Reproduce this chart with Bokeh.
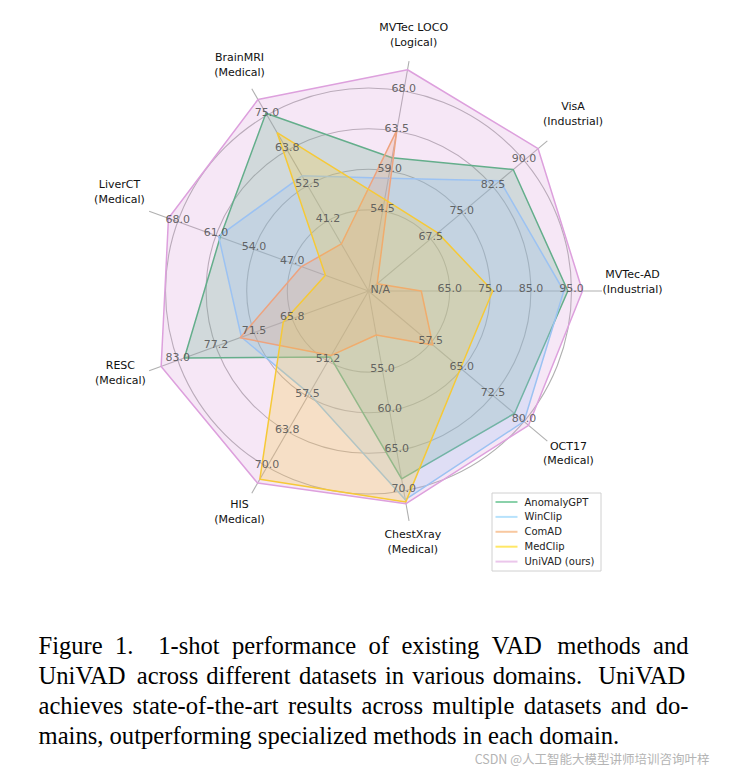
import numpy as np
from bokeh.plotting import figure
from bokeh.models import Range1d
from bokeh.embed import file_html
from bokeh.resources import INLINE
from bokeh.core.properties import value

# ---------------- data ----------------
categories = ["MVTec-AD", "VisA", "MVTec LOCO", "BrainMRI", "LiverCT",
              "RESC", "HIS", "ChestXray", "OCT17"]
domains = ["Industrial", "Industrial", "Logical", "Medical", "Medical",
           "Medical", "Medical", "Medical", "Medical"]
# ring tick values per axis (rings at 40%, 60%, 80%, 100% of radius)
ticks_mvtec = [65.0, 75.0, 85.0, 95.0]
ticks_visa = [67.5, 75.0, 82.5, 90.0]
ticks_loco = [54.5, 59.0, 63.5, 68.0]
ticks_brain = [41.25, 52.5, 63.75, 75.0]
ticks_liver = [47.0, 54.0, 61.0, 68.0]
ticks_resc = [65.75, 71.5, 77.25, 83.0]
ticks_his = [51.25, 57.5, 63.75, 70.0]
ticks_chest = [55.0, 60.0, 65.0, 70.0]
ticks_oct = [57.5, 65.0, 72.5, 80.0]
axis_ticks = [ticks_mvtec, ticks_visa, ticks_loco, ticks_brain, ticks_liver,
              ticks_resc, ticks_his, ticks_chest, ticks_oct]
center_label = "N/A"

methods = ["AnomalyGPT", "WinClip", "ComAD", "MedClip", "UniVAD (ours)"]
anomalygpt = [94.1, 87.4, 60.5, 75.6, 60.2, 82.0, 50.5, 68.5, 77.7]
winclip = [93.1, 84.2, 58.2, 55.6, 60.5, 73.4, 57.0, 71.1, 80.0]
comad = [58.0, 54.6, 63.6, 33.8, 45.3, 73.6, 50.2, 50.5, 58.0]
medclip = [75.6, 69.2, 55.8, 69.4, 40.9, 67.1, 72.2, 71.4, 64.7]
univad = [97.7, 93.4, 70.4, 80.0, 69.7, 85.5, 72.9, 71.6, 81.1]
series = [anomalygpt, winclip, comad, medclip, univad]

caption_lines = [
    "Figure 1.  1-shot performance of existing VAD methods and",
    "UniVAD across different datasets in various domains.  UniVAD",
    "achieves state-of-the-art results across multiple datasets and do-",
    "mains, outperforming specialized methods in each domain.",
]
watermark = "CSDN @人工智能大模型讲师培训咨询叶梓"

# ---------------- style / layout ----------------
colors = ["#3CB371", "#87CEFA", "#F4A460", "#FFD700", "#DDA0DD"]
W, H = 714, 768
CX, CY = 368.0, 290.5          # radar centre (pixels from top-left of the figure)
R = 203.0                      # radius of outer (100%) ring
ring_fracs = [0.4, 0.6, 0.8, 1.0]
spoke_frac = 1.15
label_r = [264, 267, 260, 258, 265, 264, 258, 255, 261]
SANS = "DejaVu Sans"

p = figure(width=W, height=H, output_backend="svg", toolbar_location=None,
           x_range=Range1d(-CX, W - CX), y_range=Range1d(CY - H, CY),
           x_axis_type=None, y_axis_type=None, min_border=0,
           outline_line_color=None, background_fill_color="white")
p.grid.visible = False

n = len(categories)
theta = np.radians(np.arange(n) * 360.0 / n)
ct, st = np.cos(theta), np.sin(theta)


def to_radius(v, k):
    lo, hi = axis_ticks[k][0], axis_ticks[k][-1]
    return R * (0.4 + 0.6 * (v - lo) / (hi - lo))


def page(xp, yp):
    return xp - CX, CY - yp


# grid rings and spokes
p.circle(x=[0] * len(ring_fracs), y=[0] * len(ring_fracs),
         radius=[f * R for f in ring_fracs], fill_color=None,
         line_color="#b0b0b0", line_width=1.1)
p.segment(x0=[0] * n, y0=[0] * n, x1=list(spoke_frac * R * ct), y1=list(spoke_frac * R * st),
          line_color="#b0b0b0", line_width=1.1)

# series polygons
for vals, col in zip(series, colors):
    rr = np.array([to_radius(v, k) for k, v in enumerate(vals)])
    p.patch(list(rr * ct), list(rr * st), fill_color=col, fill_alpha=0.25,
            line_color=col, line_width=1.5)

# ring labels
tx, ty, tt = [], [], []
for k in range(n):
    for f, t in zip(ring_fracs, axis_ticks[k]):
        tx.append(f * R * ct[k])
        ty.append(f * R * st[k] + 3)
        tt.append(f"{t:.1f}")
p.text(x=tx, y=ty, text=tt, text_align="center", text_baseline="middle",
       text_font=value(SANS), text_font_size="11px", text_color="#555555", text_alpha=0.9)
p.text(x=[2], y=[2], text=[center_label], text_align="left", text_baseline="middle",
       text_font=value(SANS), text_font_size="11px", text_color="#555555", text_alpha=0.9)

# category labels
lx = [label_r[k] * ct[k] for k in range(n)]
ly = [label_r[k] * st[k] + 9 * ct[k] ** 2 for k in range(n)]
lt = [f"{c}\n({d})" for c, d in zip(categories, domains)]
p.text(x=lx, y=ly, text=lt, text_align="center", text_baseline="middle",
       text_font=value(SANS), text_font_size="11px", text_color="#111111",
       text_line_height=1.15)

# legend
bx0, by0 = page(491.5, 492.5)
bx1, by1 = page(600.5, 570.5)
p.quad(left=[bx0], right=[bx1], top=[by0], bottom=[by1], fill_color="white",
       fill_alpha=0.8, line_color="#d0d0d0", line_width=1)
for i, (m, col) in enumerate(zip(methods, colors)):
    yy = CY - (501.5 + i * 14.9)
    p.segment(x0=[495 - CX], y0=[yy], x1=[517 - CX], y1=[yy], line_color=col,
              line_alpha=0.6, line_width=2)
    p.text(x=[524 - CX], y=[yy], text=[m], text_align="left", text_baseline="middle",
           text_font=value(SANS), text_font_size="10px", text_color="#222222")

# caption (justified, Times metrics)
TW = {' ': 250, 'a': 444, 'b': 500, 'c': 444, 'd': 500, 'e': 444, 'f': 333, 'g': 500,
      'h': 500, 'i': 278, 'j': 278, 'k': 500, 'l': 278, 'm': 778, 'n': 500, 'o': 500,
      'p': 500, 'q': 500, 'r': 333, 's': 389, 't': 278, 'u': 500, 'v': 500, 'w': 722,
      'x': 500, 'y': 500, 'z': 444, 'A': 722, 'D': 722, 'F': 556, 'U': 722, 'V': 722,
      'I': 333, '1': 500, '.': 250, ',': 250, '-': 333}
FS = 24.6
left, right = 38.0, 688.0
base0, lead = 645.0, 30.0
wx, wy, wt = [], [], []
for li, line in enumerate(caption_lines):
    parts = line.split(" ")
    words, weights = [], []
    w_gap = 0
    for part in parts:
        if part == "":
            w_gap += 1
            continue
        if words:
            weights.append(w_gap)
        words.append(part)
        w_gap = 1
    widths = [sum(TW.get(ch, 500) for ch in w) * FS / 1000.0 for w in words]
    if li < len(caption_lines) - 1:
        unit = (right - left - sum(widths)) / sum(weights)
    else:
        unit = 0.25 * FS
    x = left
    for j, w in enumerate(words):
        wx.append(x - CX)
        wy.append(CY - (base0 + li * lead))
        wt.append(w)
        x += widths[j]
        if j < len(weights):
            x += unit * weights[j]
p.text(x=wx, y=wy, text=wt, text_align="left", text_baseline="alphabetic",
       text_font=value("Liberation Serif"), text_font_size=f"{FS}px", text_color="#000000")

# watermark
p.text(x=[709 - CX], y=[CY - 758], text=[watermark], text_align="right",
       text_baseline="middle", text_font=value("Noto Sans CJK SC"),
       text_font_size="12.5px", text_color="#b4b4b4")

open("out.html", "w").write(file_html(p, INLINE))
